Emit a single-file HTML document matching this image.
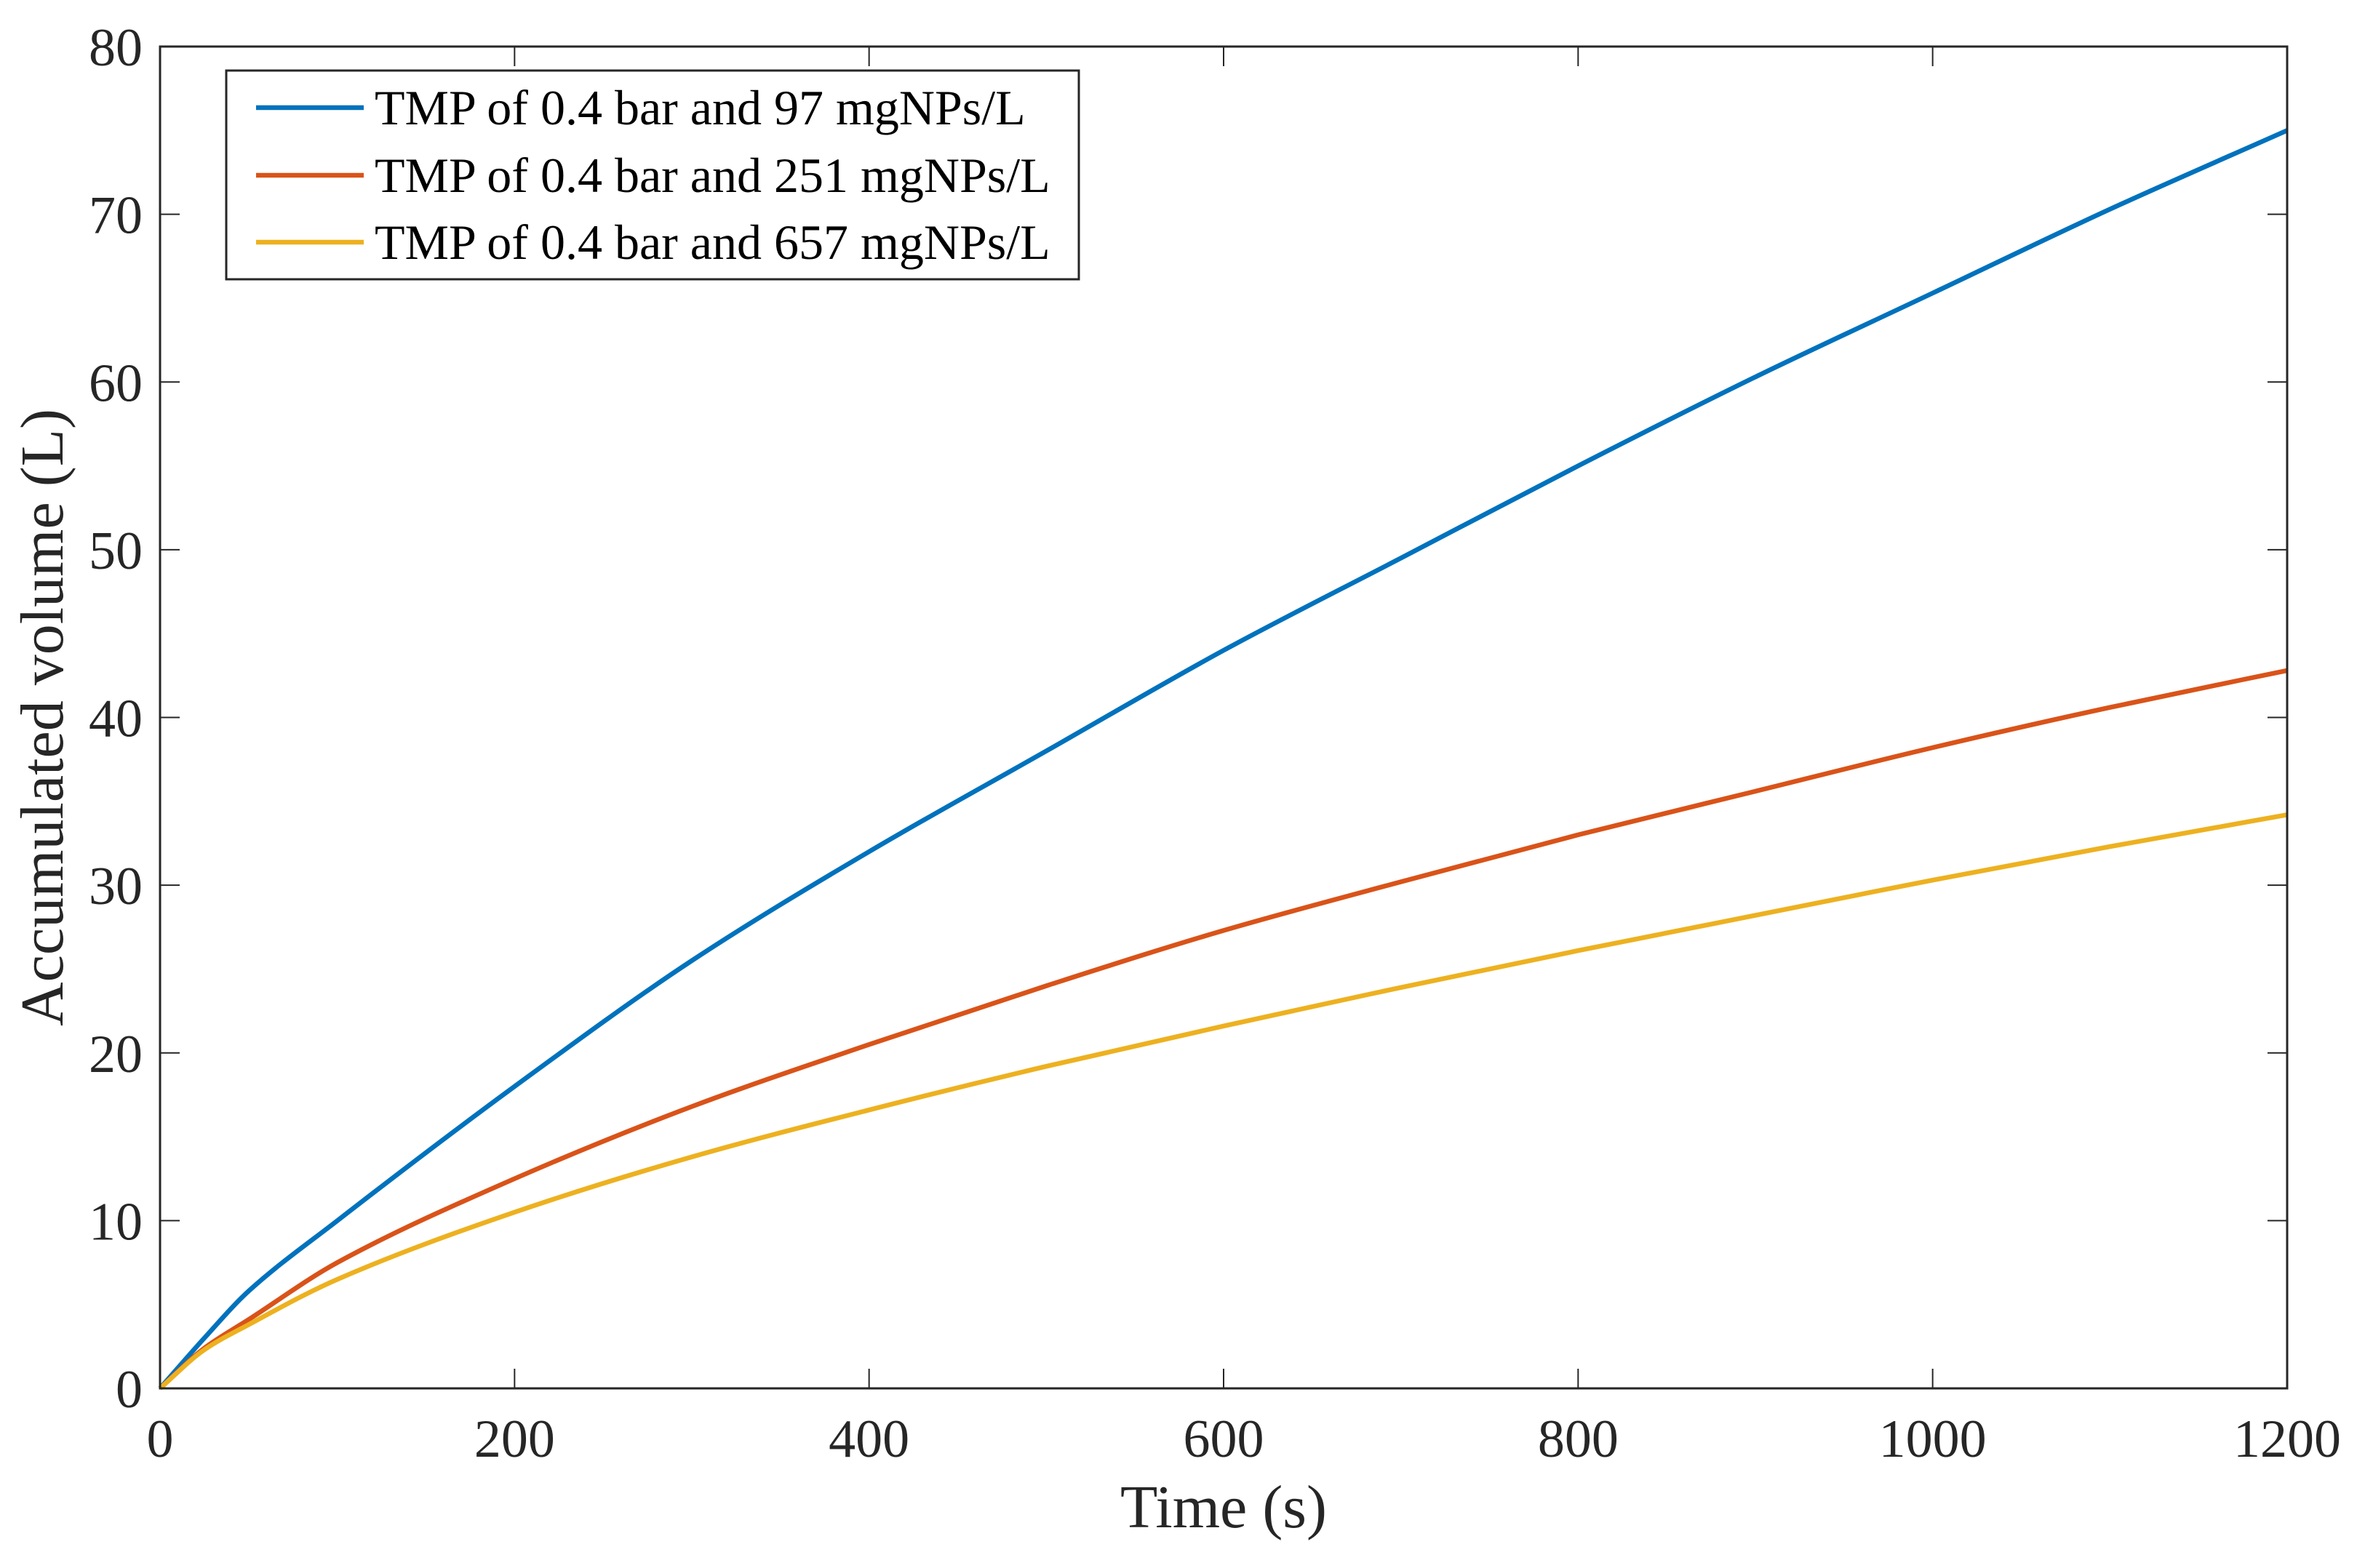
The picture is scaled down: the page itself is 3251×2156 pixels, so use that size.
<!DOCTYPE html>
<html><head><meta charset="utf-8"><style>
html,body{margin:0;padding:0;background:#fff;}
svg{display:block;font-family:"Liberation Serif",serif;}
</style></head><body>
<svg id="chart" width="3251" height="2156" viewBox="0 0 3251 2156">
<g id="plot"></g>
</svg>
<script>
const xTicks=[0,200,400,600,800,1000,1200];
const yTicks=[0,10,20,30,40,50,60,70,80];
const times=[0,25,50,100,200,300,400,500,600,700,800,900,1000,1100,1200];
const blue=[0,3.0,5.8,10,18,25.5,32,38,44,49.5,55,60.3,65.3,70.3,75];
const orange=[0,2.4,4.1,7.5,12.5,16.8,20.5,24,27.3,30.2,33,35.6,38.2,40.6,42.8];
const yellow=[0,2.3,3.8,6.5,10.5,13.8,16.6,19.2,21.6,23.9,26.1,28.2,30.3,32.3,34.2];
const seriesNames=["TMP of 0.4 bar and 97 mgNPs/L","TMP of 0.4 bar and 251 mgNPs/L","TMP of 0.4 bar and 657 mgNPs/L"];
const colors=["#0072BD","#D95319","#EDB120"];

const L=220,R=3144,T=64,B=1909;
const sx=v=>L+(v-0)/(1200-0)*(R-L);
const sy=v=>B-(v-0)/(80-0)*(B-T);
const NS="http://www.w3.org/2000/svg";
const g=document.getElementById('plot');
function mk(tag,attrs,parent){const e=document.createElementNS(NS,tag);for(const k in attrs)e.setAttribute(k,attrs[k]);(parent||g).appendChild(e);return e;}

function smoothPath(xs,ys){
  const n=xs.length, m=[], d=[];
  for(let i=0;i<n-1;i++) d.push((ys[i+1]-ys[i])/(xs[i+1]-xs[i]));
  m[0]=d[0]; m[n-1]=d[n-2];
  for(let i=1;i<n-1;i++) m[i]=(d[i-1]*d[i]<=0)?0:2/(1/d[i-1]+1/d[i]);
  let p='M'+xs[0].toFixed(1)+' '+ys[0].toFixed(1);
  for(let i=0;i<n-1;i++){
    const h=xs[i+1]-xs[i];
    p+=' C'+(xs[i]+h/3).toFixed(1)+' '+(ys[i]+m[i]*h/3).toFixed(1)+' '+(xs[i+1]-h/3).toFixed(1)+' '+(ys[i+1]-m[i+1]*h/3).toFixed(1)+' '+xs[i+1].toFixed(1)+' '+ys[i+1].toFixed(1);
  }
  return p;
}

[blue,orange,yellow].forEach((arr,i)=>{
  const d=smoothPath(times.map(sx),arr.map(sy));
  const p=mk('path',{d:d,fill:'none',stroke:colors[i],'stroke-width':6.5,'stroke-linejoin':'round'});
  
  
});

const box=mk('rect',{x:L,y:T,width:R-L,height:B-T,fill:'none',stroke:'#262626','stroke-width':3});



xTicks.forEach(v=>{
  const x=sx(v);
  mk('line',{x1:x,x2:x,y1:B,y2:B-27,stroke:'#262626','stroke-width':2});
  mk('line',{x1:x,x2:x,y1:T,y2:T+27,stroke:'#262626','stroke-width':2});
  const t=mk('text',{x:x,y:2003,'text-anchor':'middle','font-size':74,fill:'#262626'});
  t.textContent=v;
  
  
});
yTicks.forEach(v=>{
  const y=sy(v);
  mk('line',{x1:L,x2:L+27,y1:y,y2:y,stroke:'#262626','stroke-width':2});
  mk('line',{x1:R,x2:R-27,y1:y,y2:y,stroke:'#262626','stroke-width':2});
  const t=mk('text',{x:196,y:y+26,'text-anchor':'end','font-size':74,fill:'#262626'});
  t.textContent=v;
  
  
});

const xt=mk('text',{x:(L+R)/2,y:2100,'text-anchor':'middle','font-size':84,fill:'#262626'});
xt.textContent='Time (s)';


const yt=mk('text',{x:0,y:0,'text-anchor':'middle','font-size':84,fill:'#262626',transform:'translate(86,'+((T+B)/2)+') rotate(-90)'});
yt.textContent='Accumulated volume (L)';



const lg=mk('g',{});


mk('rect',{x:311,y:97,width:1172,height:287,fill:'#fff',stroke:'#262626','stroke-width':3},lg);
const rows=[148,241,333];
seriesNames.forEach((n,i)=>{
  const e=mk('g',{},lg);
  
  
  mk('line',{x1:352,x2:500,y1:rows[i],y2:rows[i],stroke:colors[i],'stroke-width':6.5},e);
  const t=mk('text',{x:515,y:rows[i]+23,'font-size':68,fill:'#000'},e);
  t.textContent=n;
});
</script>
</body></html>
